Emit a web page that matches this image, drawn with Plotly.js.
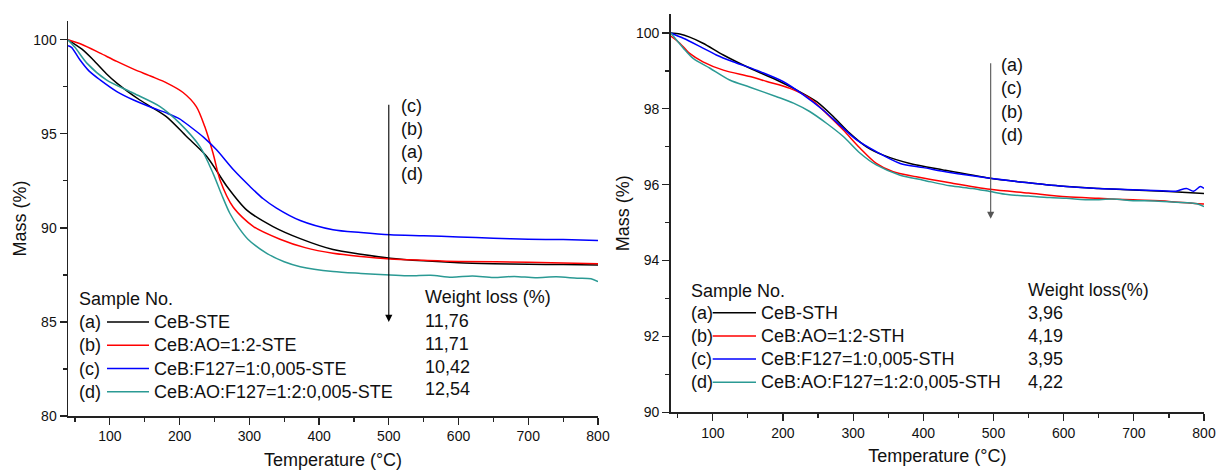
<!DOCTYPE html>
<html><head><meta charset="utf-8">
<script src="https://cdn.plot.ly/plotly-3.0.1.min.js"></script>
<style>html,body{margin:0;padding:0;background:#fff}#chart{width:1219px;height:472px}</style>
</head><body><div id="chart"></div>
<script>
// ---------- Left panel (STE) ----------
const steA_x = [40, 60, 76, 95, 110, 143, 181, 210, 239, 268, 296, 334, 373, 420, 460, 502, 550, 600, 650, 700, 750, 800];
const steA_y = [100, 99.5, 98.94, 98.2, 97.7, 96.8, 95.92, 94.86, 93.8, 92.2, 90.96, 90.07, 89.43, 88.85, 88.6, 88.39, 88.25, 88.15, 88.1, 88.07, 88.05, 88.03];
const steB_x = [40, 60, 86, 110, 134, 160, 182, 205, 224, 236, 248, 258, 277, 306, 344, 380, 420, 460, 502, 550, 600, 700, 800];
const steB_y = [100, 99.75, 99.29, 98.85, 98.44, 98.05, 97.7, 97.2, 96.45, 95.4, 93.97, 92.55, 91.1, 90.07, 89.4, 88.95, 88.65, 88.48, 88.35, 88.28, 88.22, 88.18, 88.1];
const steC_x = [40, 45, 57, 70, 86, 110, 134, 160, 182, 200, 215, 235, 253, 277, 301, 320, 339, 373, 420, 460, 502, 550, 600, 650, 700, 750, 800];
const steC_y = [99.68, 99.6, 98.94, 98.35, 97.87, 97.25, 96.8, 96.4, 96.1, 95.8, 95.39, 94.8, 94.15, 93.1, 92.2, 91.55, 91.05, 90.39, 89.9, 89.75, 89.63, 89.58, 89.52, 89.45, 89.4, 89.38, 89.33];
const steD_x = [40, 50, 67, 95, 134, 172, 200, 229, 248, 260, 272, 285, 298, 325, 350, 373, 420, 460, 502, 530, 560, 590, 620, 650, 680, 710, 740, 770, 790, 800];
const steD_y = [100, 99.6, 98.76, 97.87, 97.16, 96.45, 95.57, 94.33, 92.9, 91.8, 90.78, 90.0, 89.4, 88.65, 88.2, 87.94, 87.68, 87.58, 87.5, 87.45, 87.48, 87.38, 87.44, 87.36, 87.42, 87.35, 87.4, 87.33, 87.3, 87.14];

// ---------- Right panel (STH) ----------
const sthA_x = [40, 53, 67, 86, 115, 153, 191, 219, 248, 272, 295, 319, 343, 381, 428, 495, 550, 604, 650, 699, 750, 800];
const sthA_y = [100, 99.97, 99.89, 99.73, 99.42, 99.07, 98.76, 98.5, 98.19, 97.79, 97.36, 97.0, 96.78, 96.56, 96.39, 96.17, 96.05, 95.95, 95.9, 95.86, 95.82, 95.77];
const sthB_x = [40, 53, 67, 86, 115, 153, 177, 210, 238, 262, 286, 310, 333, 357, 390, 438, 495, 550, 604, 650, 699, 750, 800];
const sthB_y = [99.92, 99.73, 99.46, 99.24, 99.02, 98.85, 98.72, 98.54, 98.28, 97.88, 97.44, 96.96, 96.56, 96.34, 96.21, 96.05, 95.88, 95.78, 95.68, 95.64, 95.6, 95.56, 95.49];
const sthC_x = [40, 58, 82, 105, 129, 162, 200, 229, 257, 281, 305, 333, 367, 400, 438, 495, 550, 604, 650, 699, 740, 760, 775, 785, 795, 800];
const sthC_y = [100, 99.86, 99.64, 99.42, 99.24, 99.02, 98.72, 98.37, 97.97, 97.57, 97.18, 96.87, 96.56, 96.45, 96.32, 96.17, 96.05, 95.95, 95.9, 95.87, 95.84, 95.83, 95.9, 95.83, 95.95, 95.9];
const sthD_x = [40, 48, 58, 72, 96, 124, 153, 191, 215, 238, 262, 286, 310, 333, 367, 400, 438, 470, 495, 520, 550, 580, 604, 640, 670, 699, 730, 760, 790, 800];
const sthD_y = [100, 99.82, 99.6, 99.33, 99.07, 98.76, 98.57, 98.32, 98.15, 97.93, 97.62, 97.27, 96.83, 96.52, 96.25, 96.12, 95.97, 95.9, 95.82, 95.74, 95.7, 95.66, 95.64, 95.6, 95.62, 95.58, 95.57, 95.54, 95.5, 95.42];

// ---------- Labels ----------
const sampleIds = ['(a)', '(b)', '(c)', '(d)'];
const steNames = ['CeB-STE', 'CeB:AO=1:2-STE', 'CeB:F127=1:0,005-STE', 'CeB:AO:F127=1:2:0,005-STE'];
const sthNames = ['CeB-STH', 'CeB:AO=1:2-STH', 'CeB:F127=1:0,005-STH', 'CeB:AO:F127=1:2:0,005-STH'];
const steLoss = ['11,76', '11,71', '10,42', '12,54'];
const sthLoss = ['3,96', '4,19', '3,95', '4,22'];
const steOrder = ['(c)', '(b)', '(a)', '(d)'];
const sthOrder = ['(a)', '(c)', '(b)', '(d)'];
const colors = ['#000000', '#ff0000', '#0000ff', '#2b9a94'];

const W = 1219, H = 472;
const px = v => v / W, py = v => 1 - v / H;
const FONT = 'Liberation Sans, Arial, sans-serif';

const steX = [steA_x, steB_x, steC_x, steD_x], steY = [steA_y, steB_y, steC_y, steD_y];
const sthX = [sthA_x, sthB_x, sthC_x, sthD_x], sthY = [sthA_y, sthB_y, sthC_y, sthD_y];

const traces = [];
for (let i = 0; i < 4; i++) {
  traces.push({x: steX[i], y: steY[i], xaxis: 'x', yaxis: 'y', mode: 'lines', name: steNames[i],
    line: {color: colors[i], width: 1.5, shape: 'spline', smoothing: 0.8}, showlegend: false, hoverinfo: 'skip'});
}
for (let i = 0; i < 4; i++) {
  traces.push({x: sthX[i], y: sthY[i], xaxis: 'x2', yaxis: 'y2', mode: 'lines', name: sthNames[i],
    line: {color: colors[i], width: 1.5, shape: 'spline', smoothing: 0.8}, showlegend: false, hoverinfo: 'skip'});
}

const ann = [], shapes = [];
function txt(x, y, t) {
  ann.push({xref: 'paper', yref: 'paper', x: px(x), y: py(y), text: t, showarrow: false,
    xanchor: 'left', yanchor: 'middle', font: {family: FONT, size: 18, color: '#111'}, borderpad: 0});
}
// Left legend
txt(78, 299.3, 'Sample No.');
const lRows = [322, 345.3, 368.5, 391.7];
for (let i = 0; i < 4; i++) {
  txt(78, lRows[i], sampleIds[i]);
  shapes.push({type: 'line', xref: 'paper', yref: 'paper', x0: px(107), x1: px(149), y0: py(lRows[i]), y1: py(lRows[i]), line: {color: colors[i], width: 1.5}});
  txt(153, lRows[i], steNames[i]);
}
txt(424, 296.7, 'Weight loss (%)');
const lLossRows = [320.7, 343.5, 366.7, 389.3];
for (let i = 0; i < 4; i++) txt(424, lLossRows[i], steLoss[i]);
const lArrowRows = [106, 128.5, 151.5, 174.3];
for (let i = 0; i < 4; i++) txt(400, lArrowRows[i], steOrder[i]);

// Right legend
txt(690, 290.7, 'Sample No.');
const rRows = [312.7, 336, 359, 382.3];
for (let i = 0; i < 4; i++) {
  txt(690, rRows[i], sampleIds[i]);
  shapes.push({type: 'line', xref: 'paper', yref: 'paper', x0: px(712.7), x1: px(756), y0: py(rRows[i]), y1: py(rRows[i]), line: {color: colors[i], width: 1.5}});
  txt(760, rRows[i], sthNames[i]);
}
txt(1027, 290, 'Weight loss(%)');
const rLossRows = [313, 336, 359, 382];
for (let i = 0; i < 4; i++) txt(1027, rLossRows[i], sthLoss[i]);
const rArrowRows = [65, 88.3, 111.7, 135];
for (let i = 0; i < 4; i++) txt(1000, rArrowRows[i], sthOrder[i]);

// Arrows
ann.push({xref: 'x', yref: 'y', axref: 'x', ayref: 'y', x: 500, y: 85.0, ax: 500, ay: 96.63, text: '',
  showarrow: true, arrowhead: 2, arrowsize: 1.3, arrowwidth: 1.1, arrowcolor: '#000'});
ann.push({xref: 'x2', yref: 'y2', axref: 'x2', ayref: 'y2', x: 496, y: 95.1, ax: 496, ay: 99.24, text: '',
  showarrow: true, arrowhead: 2, arrowsize: 1.3, arrowwidth: 1.1, arrowcolor: '#555'});

const axBase = {
  showline: true, linecolor: '#222', linewidth: 1.5, mirror: false, showgrid: false, zeroline: false,
  ticks: 'outside', ticklen: 7, tickwidth: 1.2, tickcolor: '#222',
  tickfont: {family: FONT, size: 14, color: '#111'}, automargin: false, fixedrange: true
};
const layout = {
  width: W, height: H, margin: {l: 0, r: 0, t: 0, b: 0},
  paper_bgcolor: '#fff', plot_bgcolor: '#fff', showlegend: false,
  xaxis: Object.assign({}, axBase, {domain: [px(68), px(598)], range: [40, 800], tick0: 0, dtick: 100,
    minor: {ticks: 'outside', ticklen: 4, tickwidth: 1.2, tickcolor: '#222', tick0: 0, dtick: 50},
    title: {text: 'Temperature (°C)', font: {family: FONT, size: 18, color: '#111'}, standoff: 10}, anchor: 'y'}),
  yaxis: Object.assign({}, axBase, {domain: [py(416), py(21)], range: [80, 101], tick0: 0, dtick: 5,
    minor: {ticks: 'outside', ticklen: 4, tickwidth: 1.2, tickcolor: '#222', tick0: 0, dtick: 2.5},
    title: {text: 'Mass (%)', font: {family: FONT, size: 18, color: '#111'}, standoff: 2}, anchor: 'x'}),
  xaxis2: Object.assign({}, axBase, {domain: [px(670.7), px(1204)], range: [40, 800], tick0: 0, dtick: 100,
    minor: {ticks: 'outside', ticklen: 4, tickwidth: 1.2, tickcolor: '#222', tick0: 0, dtick: 50},
    title: {text: 'Temperature (°C)', font: {family: FONT, size: 18, color: '#111'}, standoff: 10}, anchor: 'y2'}),
  yaxis2: Object.assign({}, axBase, {domain: [py(412.3), py(14)], range: [90, 100.5], tick0: 0, dtick: 2,
    minor: {ticks: 'outside', ticklen: 4, tickwidth: 1.2, tickcolor: '#222', tick0: 0, dtick: 1},
    title: {text: 'Mass (%)', font: {family: FONT, size: 18, color: '#111'}, standoff: 1}, anchor: 'x2'}),
  annotations: ann, shapes: shapes
};
Plotly.newPlot('chart', traces, layout, {displayModeBar: false, staticPlot: true});
</script></body></html>
